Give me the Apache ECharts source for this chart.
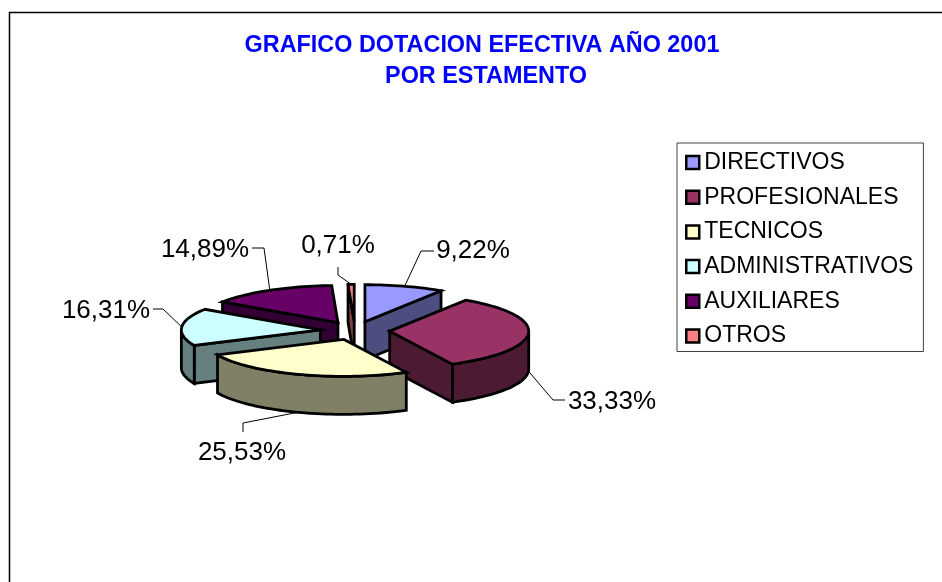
<!DOCTYPE html>
<html>
<head>
<meta charset="utf-8">
<style>
html,body{margin:0;padding:0;background:#fff;}
#main{width:942px;height:582px;}
</style>
<script src="https://cdn.jsdelivr.net/npm/echarts@6/dist/echarts.min.js"></script>
</head>
<body>
<div id="main"></div>
<script>
// datos
var titleLines = ['GRAFICO DOTACION EFECTIVA AÑO 2001', 'POR ESTAMENTO'];
var categories = ['DIRECTIVOS', 'PROFESIONALES', 'TECNICOS', 'ADMINISTRATIVOS', 'AUXILIARES', 'OTROS'];
var values = [9.22, 33.33, 25.53, 16.31, 14.89, 0.71];
var valueLabels = ['9,22%', '33,33%', '25,53%', '16,31%', '14,89%', '0,71%'];
var topColors = ['#9999ff', '#993366', '#ffffcc', '#ccffff', '#660066', '#ff8080'];
var sideColors = ['#4d4d80', '#4d1a33', '#808066', '#668080', '#330033', '#804040'];

// orden de pintado, de atras hacia adelante
var drawOrder = [5, 4, 3, 0, 1, 2];

// geometria de la torta
var cx = 355, cy = 330.6, rx = 139, ry = 37, depth = 38, explode = 0.25;
// codo de la linea guia y centro de la etiqueta, por categoria
var leaderElbow = [[421, 251], [553, 400], [243, 423], [163, 309], [264, 248], [338, 275]];
var leaderEnd = [[434, 251], [565, 400], [243, 432], [153, 309], [252, 248], [338, 267]];
var labelPos = [[473, 251], [612, 401.5], [242, 453], [106, 311], [205, 250], [338, 246]];

var total = values.reduce(function (a, b) { return a + b; }, 0);

function startAngle(idx) {
    var sum = 0;
    for (var i = 0; i < idx; i++) sum += values[i];
    return sum / total * 360;
}

function arcPoint(ox, oy, deg) {
    var r = deg * Math.PI / 180;
    return [ox + rx * Math.sin(r), oy - ry * Math.cos(r)];
}

function down(p) {
    return [p[0], p[1] + depth];
}

function renderSlice(idx, params, api) {
    var a0 = startAngle(idx);
    var a1 = a0 + api.value(0) / total * 360;
    var mid = (a0 + a1) / 2 * Math.PI / 180;
    var ox = cx + explode * rx * Math.sin(mid);
    var oy = cy - explode * ry * Math.cos(mid);
    var apex = [ox, oy];
    var stroke = { stroke: '#000', lineWidth: 2.8, lineJoin: 'miter' };
    var side = Object.assign({ fill: sideColors[idx] }, stroke);
    var kids = [];

    // caras radiales que se ven
    if (Math.sin(a0 * Math.PI / 180) < -0.001) {
        var p0 = arcPoint(ox, oy, a0);
        kids.push({ type: 'polygon', shape: { points: [apex, p0, down(p0), down(apex)] }, style: side });
    }
    if (Math.sin(a1 * Math.PI / 180) > 0.001) {
        var p1 = arcPoint(ox, oy, a1);
        kids.push({ type: 'polygon', shape: { points: [apex, p1, down(p1), down(apex)] }, style: side });
    }

    // pared exterior, solo la mitad de adelante (90 a 270)
    var w0 = Math.max(a0, 90), w1 = Math.min(a1, 270);
    if (w1 > w0) {
        var up = [], low = [];
        for (var w = w0; w < w1; w += 2) {
            up.push(arcPoint(ox, oy, w));
        }
        up.push(arcPoint(ox, oy, w1));
        for (var k = up.length - 1; k >= 0; k--) low.push(down(up[k]));
        kids.push({ type: 'polygon', shape: { points: up.concat(low) }, style: side });
    }

    // cara superior
    var pts = [apex];
    for (var t = a0; t < a1; t += 2) {
        pts.push(arcPoint(ox, oy, t));
    }
    pts.push(arcPoint(ox, oy, a1));
    kids.push({
        type: 'polygon',
        shape: { points: pts },
        style: Object.assign({ fill: topColors[idx] }, stroke)
    });

    // linea guia y etiqueta
    var anchor = arcPoint(ox, oy, (a0 + a1) / 2);
    if (Math.cos(mid) < 0) anchor = down(anchor);
    kids.unshift({
        type: 'polyline',
        shape: { points: [anchor, leaderElbow[idx], leaderEnd[idx]] },
        style: { stroke: '#000', lineWidth: 1, fill: null }
    });
    kids.push({
        type: 'text',
        style: {
            text: valueLabels[idx],
            x: labelPos[idx][0],
            y: labelPos[idx][1],
            fill: '#000',
            fontFamily: 'Liberation Sans',
            fontSize: 26,
            textAlign: 'center',
            textVerticalAlign: 'middle'
        }
    });
    return { type: 'group', children: kids };
}

var series = drawOrder.map(function (idx) {
    return {
        type: 'custom',
        name: categories[idx],
        coordinateSystem: 'none',
        silent: true,
        itemStyle: { color: topColors[idx] },
        data: [[values[idx]]],
        renderItem: function (params, api) {
            return renderSlice(idx, params, api);
        }
    };
});

var titleStyle = {
    color: '#0000ff',
    fontFamily: 'Liberation Sans',
    fontWeight: 'bold',
    fontSize: 23.4
};

var myChart = echarts.init(document.getElementById('main'), null, { renderer: 'canvas' });
myChart.setOption({
    animation: false,
    backgroundColor: '#fff',
    title: [
        { text: titleLines[0], left: 477, top: 29, textAlign: 'center', textStyle: titleStyle },
        { text: titleLines[1], left: 481, top: 60, textAlign: 'center', textStyle: titleStyle }
    ],
    legend: {
        orient: 'vertical',
        left: 677,
        top: 143,
        padding: [8, 10, 4, 8],
        itemWidth: 13,
        itemHeight: 13,
        itemGap: 11.7,
        selectedMode: false,
        backgroundColor: '#fff',
        borderColor: '#404040',
        borderWidth: 1,
        borderRadius: 0,
        icon: 'rect',
        itemStyle: { borderColor: '#000', borderWidth: 2.5 },
        textStyle: {
            color: '#000',
            fontFamily: 'Liberation Sans',
            fontSize: 23,
            padding: 0
        },
        data: categories
    },
    graphic: [{
        type: 'rect',
        silent: true,
        z: -1,
        shape: { x: 9.5, y: 12.5, width: 1000, height: 1000 },
        style: { fill: '#fff', stroke: '#000', lineWidth: 1.5 }
    }],
    series: series
});
</script>
</body>
</html>
